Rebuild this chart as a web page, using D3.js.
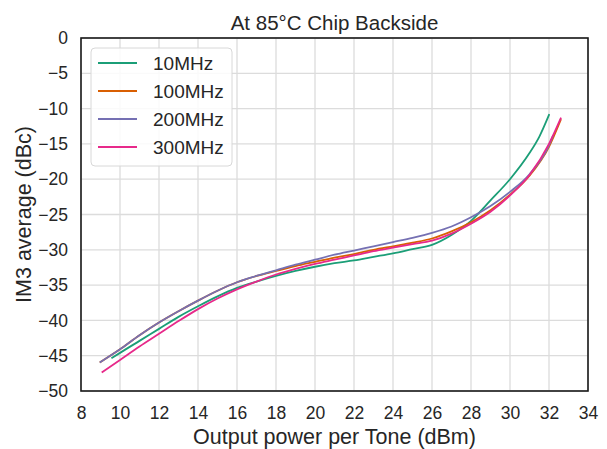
<!DOCTYPE html>
<html>
<head>
<meta charset="utf-8">
<script src="https://cdn.jsdelivr.net/npm/d3@7"></script>
<style>
  html, body { margin: 0; padding: 0; background: #fff; }
  svg { display: block; font-family: "Liberation Sans", Arial, sans-serif; }
</style>
</head>
<body>
<svg id="chart" width="607" height="449"></svg>
<script>
// IM3 vs output power per tone, one series per tone spacing
const seriesNames = ["10MHz", "100MHz", "200MHz", "300MHz"];
const seriesColors = ["#1b9e77", "#d95f02", "#7570b3", "#e7298a"];

const power10 = [9.6, 10, 11, 12, 13, 14, 15, 16, 17, 18, 19, 20, 21, 22, 23, 24, 25, 26, 27, 28, 29, 30, 31, 31.5, 32];
const im3_10 = [-45.3, -44.6, -42.9, -41.2, -39.5, -38.0, -36.6, -35.4, -34.5, -33.7, -33.0, -32.4, -31.9, -31.5, -31.0, -30.5, -29.9, -29.3, -27.9, -25.9, -23.0, -20.0, -16.3, -14.0, -10.9];

const power100 = [9.0, 10, 11, 12, 13, 14, 15, 16, 17, 18, 19, 20, 21, 22, 23, 24, 25, 26, 27, 28, 29, 30, 31, 32, 32.6];
const im3_100 = [-45.9, -44.1, -42.1, -40.3, -38.7, -37.2, -35.8, -34.6, -33.7, -33.0, -32.3, -31.7, -31.1, -30.6, -30.0, -29.5, -29.0, -28.4, -27.4, -26.1, -24.4, -22.2, -19.5, -15.4, -11.6];

const power200 = [9.0, 10, 11, 12, 13, 14, 15, 16, 17, 18, 19, 20, 21, 22, 23, 24, 25, 26, 27, 28, 29, 30, 31, 32, 32.2];
const im3_200 = [-45.9, -44.1, -42.1, -40.3, -38.7, -37.2, -35.8, -34.6, -33.7, -32.9, -32.1, -31.4, -30.7, -30.1, -29.5, -28.9, -28.3, -27.6, -26.7, -25.4, -23.8, -21.8, -19.3, -15.2, -13.9];

const power300 = [9.1, 10, 11, 12, 13, 14, 15, 16, 17, 18, 19, 20, 21, 22, 23, 24, 25, 26, 27, 28, 29, 30, 31, 32, 32.6];
const im3_300 = [-47.3, -45.6, -43.7, -41.9, -40.1, -38.4, -36.9, -35.6, -34.5, -33.5, -32.7, -32.0, -31.4, -30.8, -30.2, -29.7, -29.2, -28.7, -27.7, -26.3, -24.6, -22.3, -19.4, -15.0, -11.4];

const xTicks = [8, 10, 12, 14, 16, 18, 20, 22, 24, 26, 28, 30, 32, 34];
const yTicks = [0, -5, -10, -15, -20, -25, -30, -35, -40, -45, -50];

const series = [
  { name: seriesNames[0], color: seriesColors[0], x: power10, y: im3_10 },
  { name: seriesNames[1], color: seriesColors[1], x: power100, y: im3_100 },
  { name: seriesNames[2], color: seriesColors[2], x: power200, y: im3_200 },
  { name: seriesNames[3], color: seriesColors[3], x: power300, y: im3_300 }
];

const svg = d3.select("#chart");
const margin = { left: 81, right: 19, top: 38, bottom: 58 };
const W = 607, H = 449;

const x = d3.scaleLinear().domain([8, 34]).range([margin.left, W - margin.right]);
const y = d3.scaleLinear().domain([-50, 0]).range([H - margin.bottom, margin.top]);

// grid
const grid = svg.append("g");
grid.selectAll("line.vx").data(xTicks).join("line")
  .attr("x1", d => x(d)).attr("x2", d => x(d))
  .attr("y1", y(-50)).attr("y2", y(0))
  .attr("stroke", "#dcdcdc").attr("stroke-width", 1.3);
grid.selectAll("line.hy").data(yTicks).join("line")
  .attr("y1", d => y(d)).attr("y2", d => y(d))
  .attr("x1", x(8)).attr("x2", x(34))
  .attr("stroke", "#dcdcdc").attr("stroke-width", 1.3);

// axes (labels only, no tick marks)
const xAxis = svg.append("g")
  .attr("transform", `translate(0,${y(-50)})`)
  .call(d3.axisBottom(x).tickValues(xTicks).tickSize(0).tickPadding(16).tickFormat(d3.format("d")));
const yAxis = svg.append("g")
  .attr("transform", `translate(${x(8)},0)`)
  .call(d3.axisLeft(y).tickValues(yTicks).tickSize(0).tickPadding(13)
    .tickFormat(d => d < 0 ? "\u2212" + Math.abs(d) : String(d)));
[xAxis, yAxis].forEach(a => {
  a.select(".domain").remove();
  a.selectAll("text").attr("font-size", 17.5).attr("fill", "#262626")
    .attr("font-family", "'Liberation Sans', Arial, sans-serif");
});

// series lines
const line = d3.line().curve(d3.curveMonotoneX);
const plot = svg.append("g");
series.forEach(s => {
  const pts = s.x.map((v, i) => [x(v), y(s.y[i])]);
  plot.append("path")
    .attr("d", line(pts))
    .attr("fill", "none")
    .attr("stroke", s.color)
    .attr("stroke-width", 1.8)
    .attr("stroke-linejoin", "round")
    .attr("stroke-linecap", "square");
});

// frame
svg.append("rect")
  .attr("x", x(8)).attr("y", y(0))
  .attr("width", x(34) - x(8)).attr("height", y(-50) - y(0))
  .attr("fill", "none").attr("stroke", "#1a1a1a").attr("stroke-width", 1.6);

// title and axis labels
svg.append("text")
  .attr("x", (x(8) + x(34)) / 2).attr("y", 30)
  .attr("text-anchor", "middle").attr("font-size", 20.5).attr("fill", "#262626")
  .text("At 85\u00b0C Chip Backside");
svg.append("text")
  .attr("x", (x(8) + x(34)) / 2).attr("y", 444)
  .attr("text-anchor", "middle").attr("font-size", 21.5).attr("fill", "#262626")
  .text("Output power per Tone (dBm)");
svg.append("text")
  .attr("transform", `translate(31,${(y(0) + y(-50)) / 2}) rotate(-90)`)
  .attr("text-anchor", "middle").attr("font-size", 21.5).attr("fill", "#262626")
  .text("IM3 average (dBc)");

// legend
const lg = svg.append("g").attr("transform", "translate(91,48)");
lg.append("rect")
  .attr("width", 141).attr("height", 118).attr("rx", 4)
  .attr("fill", "#fff").attr("fill-opacity", 0.85)
  .attr("stroke", "#d8d8d8").attr("stroke-width", 1);
series.forEach((s, i) => {
  const ry = 15 + i * 28;
  lg.append("line")
    .attr("x1", 7).attr("x2", 46).attr("y1", ry).attr("y2", ry)
    .attr("stroke", s.color).attr("stroke-width", 1.8);
  lg.append("text")
    .attr("x", 62).attr("y", ry + 7)
    .attr("font-size", 19).attr("fill", "#262626")
    .text(s.name);
});
</script>
</body>
</html>
